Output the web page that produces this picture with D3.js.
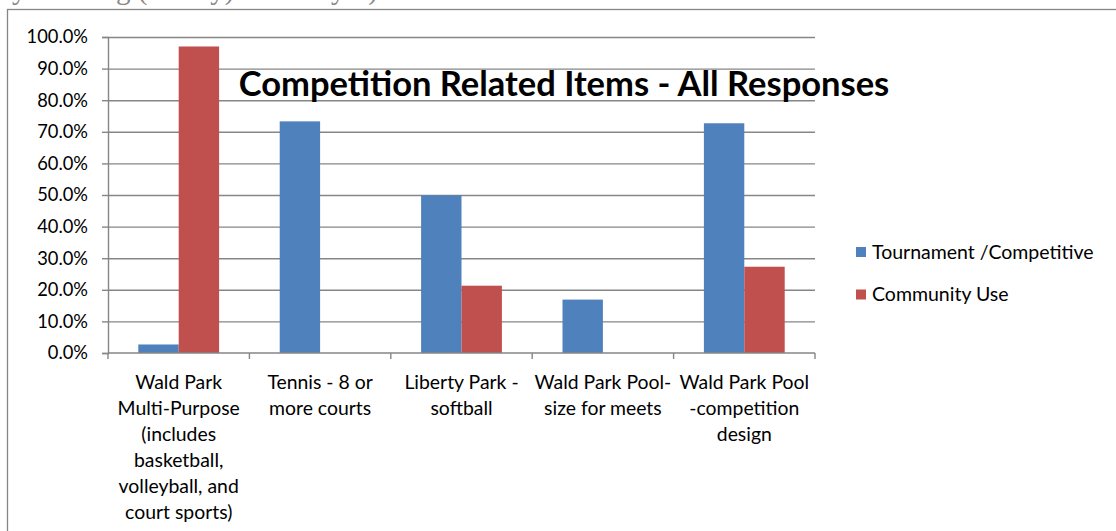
<!DOCTYPE html>
<html>
<head>
<meta charset="utf-8">
<script src="https://cdn.jsdelivr.net/npm/d3@7"></script>
<style>
  body { margin: 0; background: #fff; }
  svg { display: block; font-family: Lato, "Open Sans", sans-serif; }
  .grid line { stroke: #868686; stroke-width: 1.4; }
  .grid path { display: none; }
  .axis path, .axis line { stroke: #868686; stroke-width: 1.4; }
  .axis text { fill: #000; font-family: Lato, sans-serif; }
</style>
</head>
<body>
<svg width="1116" height="531"></svg>
<script>
// categories (line breaks as printed under the axis)
const categories = [
  'Wald Park\nMulti-Purpose\n(includes\nbasketball,\nvolleyball, and\ncourt sports)',
  'Tennis - 8 or\nmore courts',
  'Liberty Park -\nsoftball',
  'Wald Park Pool-\nsize for meets',
  'Wald Park Pool\n-competition\ndesign'
];
const seriesNames = ['Tournament /Competitive', 'Community Use'];
const tournament = [0.027, 0.733, 0.499, 0.169, 0.727];
const community = [0.970, 0, 0.213, 0, 0.273];
const yTickValues = [0, 0.1, 0.2, 0.3, 0.4, 0.5, 0.6, 0.7, 0.8, 0.9, 1.0];
const colors = ['#4F81BD', '#C0504D'];
const title = 'Competition Related Items - All Responses';

const svg = d3.select('svg');
const W = +svg.attr('width'), H = +svg.attr('height');
const margin = {top: 37, left: 108, right: W - 815, bottom: H - 353};
const iw = W - margin.left - margin.right,
      ih = H - margin.top - margin.bottom;

// scrap of the document text above the chart, mostly cut off by the page edge
svg.append('text')
   .attr('x', -4).attr('y', -1)
   .attr('font-family', '"Liberation Serif", serif')
   .attr('font-size', 29)
   .attr('fill', '#888')
   .text('ity Funding (survey) Code Gym)');

// outer chart frame (runs off the page on the right / bottom)
svg.append('rect')
   .attr('x', 7.5).attr('y', 9.5)
   .attr('width', W + 20).attr('height', H + 20)
   .attr('fill', 'none').attr('stroke', '#868686').attr('stroke-width', 1.3);

const g = svg.append('g').attr('transform', `translate(${margin.left},${margin.top})`);

const x0 = d3.scaleBand().domain(d3.range(categories.length)).range([0, iw]);
const x1 = d3.scaleBand().domain([0, 1]).range([0, x0.bandwidth()]).paddingOuter(0.75);
const y = d3.scaleLinear().domain([0, 1]).range([ih, 0]);

// gridlines
g.append('g').attr('class', 'grid')
 .call(d3.axisLeft(y).tickValues(yTickValues.slice(1)).tickSize(-iw).tickFormat(''));

// bars
const rows = categories.map((c, i) => ({i, vals: [tournament[i], community[i]]}));
g.append('g').selectAll('g')
 .data(rows).join('g')
 .attr('transform', d => `translate(${x0(d.i)},0)`)
 .selectAll('rect')
 .data(d => d.vals.map((v, s) => ({v, s})))
 .join('rect')
 .attr('x', d => x1(d.s))
 .attr('width', x1.bandwidth())
 .attr('y', d => y(d.v))
 .attr('height', d => ih - y(d.v))
 .attr('fill', d => colors[d.s]);

// y axis
g.append('g').attr('class', 'axis')
 .call(d3.axisLeft(y).tickValues(yTickValues).tickSize(6).tickPadding(14).tickFormat(d3.format('.1%')))
 .call(a => a.selectAll('text').attr('font-size', 18.3));

// x axis: baseline + ticks at category boundaries
const xa = g.append('g').attr('class', 'axis').attr('transform', `translate(0,${ih})`);
xa.append('line').attr('x1', 0).attr('x2', iw);
xa.selectAll('line.tk')
  .data(d3.range(categories.length + 1)).join('line').attr('class', 'tk')
  .attr('x1', d => d * x0.step()).attr('x2', d => d * x0.step())
  .attr('y1', 0).attr('y2', 6);
xa.selectAll('text')
  .data(categories.map((c, i) => ({i, lines: c.split('\n')})))
  .join('text')
  .attr('text-anchor', 'middle')
  .attr('font-size', 19.4)
  .attr('transform', d => `translate(${x0(d.i) + x0.bandwidth() / 2},0)`)
  .selectAll('tspan')
  .data(d => d.lines).join('tspan')
  .attr('x', 0)
  .attr('y', (d, k) => 36 + k * 25.9)
  .text(d => d);

// title
svg.append('text')
   .attr('x', 564).attr('y', 96)
   .attr('text-anchor', 'middle')
   .attr('font-weight', 'bold')
   .attr('font-size', 34.5)
   .attr('fill', '#000')
   .text(title);

// legend
const lg = svg.append('g').attr('transform', 'translate(856,0)')
  .selectAll('g').data(seriesNames).join('g')
  .attr('transform', (d, i) => `translate(0,${252 + i * 42.5})`);
lg.append('rect').attr('x', 0).attr('y', -5).attr('width', 10).attr('height', 10)
  .attr('fill', (d, i) => colors[i]);
lg.append('text').attr('x', 16).attr('dy', '0.35em')
  .attr('font-size', 19.5).attr('fill', '#000').text(d => d);
</script>
</body>
</html>
